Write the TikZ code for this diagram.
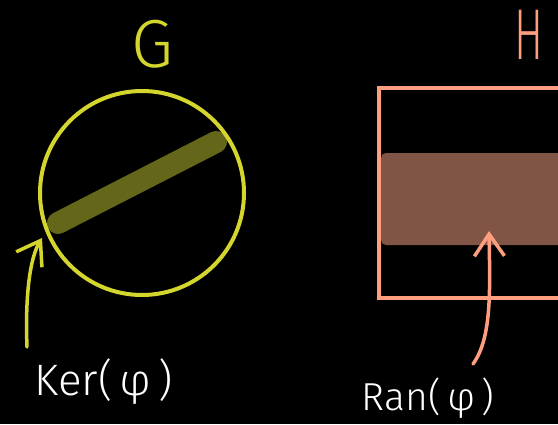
\documentclass[tikz,border=0pt]{standalone}
\usepackage{fontspec}
\setmainfont{Fira Sans Light}
\usepackage{xcolor}
\usetikzlibrary{arrows.meta, math}
\definecolor{gyellow}{RGB}{212,214,46}
\definecolor{golive}{RGB}{100,102,26}
\definecolor{hsalmon}{RGB}{255,158,126}
\definecolor{hbrown}{RGB}{128,85,70}

\begin{document}
\begin{tikzpicture}[x=1pt,y=-1pt,
  hand/.style={line width=3.5pt, line cap=round},
  pointer/.style={hand, -{Straight Barb[length=22pt,width=30pt,line width=3.5pt]}},
  lab/.style={text=white, font=\fontsize{44}{44}\selectfont}]
\tikzmath{
\cx=142;
\cy=193;
\r=102;
}
%background
\fill[black] (0,0) rectangle (558,424);
\useasboundingbox (0,0) rectangle (558,424);

%group G
\node[text=gyellow, font=\fontsize{68}{68}\selectfont] (G) at (153,44) {G};
\draw[golive, line width=22pt, line cap=round] (58,223) -- (216,142);
\draw[gyellow, line width=4pt] (\cx,\cy) circle[radius=\r pt];

%group H
\node[text=hsalmon, font=\fontsize{72}{72}\selectfont] (H) at (529,35) {\scalebox{0.6}[1]{H}};
\fill[hbrown, rounded corners=5pt] (381,153) rectangle (570,245);
\draw[hsalmon, line width=4pt] (570,88) -- (379,88) -- (379,298) -- (570,298);

%kernel
\node[lab] (ker) at (104,382) {Ker(\,φ\,)};
\coordinate (kerstart) at (27,347);
\coordinate (kerend) at (42,238);
\draw[pointer, gyellow] (kerstart) .. controls (25,295) and (30,258) .. (kerend);

%range
\node[lab, font=\fontsize{39}{39}\selectfont] (ran) at (428,398) {Ran(\,φ\,)};
\coordinate (ranstart) at (473,364);
\coordinate (ranend) at (489,231);
\draw[pointer, hsalmon] (ranstart) .. controls (492,338) and (490,290) .. (ranend);
\end{tikzpicture}
\end{document}
